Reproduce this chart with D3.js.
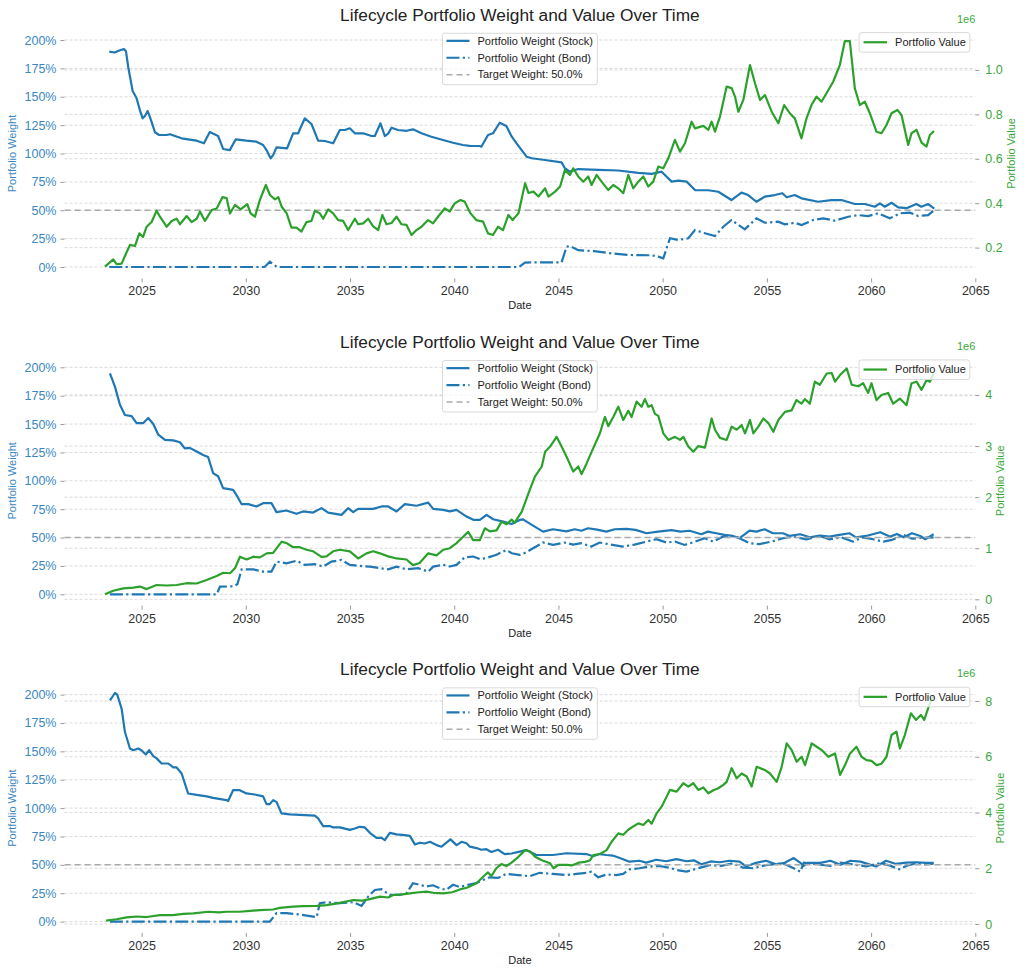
<!DOCTYPE html>
<html><head><meta charset="utf-8">
<script src="https://cdn.jsdelivr.net/npm/d3@7"></script>
<style>
body{margin:0;background:#fff;}
svg{display:block;font-family:"Liberation Sans",Arial,Helvetica,sans-serif;}
</style></head><body>
<svg id="chart" width="1024" height="975"></svg>
<script>
// ---------------- DATA ----------------
const TITLE = "Lifecycle Portfolio Weight and Value Over Time";
const xTickYears = [2025, 2030, 2035, 2040, 2045, 2050, 2055, 2060, 2065];
const weightTicks = [0, 25, 50, 75, 100, 125, 150, 175, 200];
const targetWeight = 50;
const weightLegendLabels = ["Portfolio Weight (Stock)", "Portfolio Weight (Bond)", "Target Weight: 50.0%"];
const valueLegendLabel = "Portfolio Value";
const xLabel = "Date", leftLabel = "Portfolio Weight", rightLabel = "Portfolio Value", offsetLabel = "1e6";

// Panel 1 : [year, weight %] and [year, value in 1e6]
const p1Stock = [[2023.45,189.7],[2023.7,189],[2023.96,191],[2024.15,192],[2024.25,190],[2024.36,176],[2024.47,165],[2024.57,155],[2024.76,148.6],[2024.92,138],[2025.05,131],[2025.16,133],[2025.29,137.4],[2025.4,132],[2025.53,125],[2025.64,118.7],[2025.84,116.3],[2026.2,116.3],[2026.36,117],[2026.6,115.4],[2026.92,113.4],[2027.23,112.5],[2027.64,111.3],[2027.99,109],[2028.27,118.9],[2028.67,115.4],[2028.91,104],[2029.23,103],[2029.52,112.5],[2030.03,111.3],[2030.51,110.4],[2030.83,107.5],[2030.99,103],[2031.19,95.8],[2031.31,98.6],[2031.47,105.4],[2031.98,104.6],[2032.27,117.8],[2032.51,117.8],[2032.83,131],[2033.15,126],[2033.47,111.3],[2033.79,111],[2034.19,109],[2034.51,120.7],[2034.75,120.7],[2034.99,122.2],[2035.23,117.8],[2035.63,117.8],[2036.03,115.4],[2036.19,115.4],[2036.46,126.6],[2036.67,115.4],[2036.83,117.5],[2036.99,122.7],[2037.3,120.7],[2037.71,120],[2038.02,121.3],[2038.43,117.8],[2038.9,114.8],[2039.46,111.9],[2039.94,109.5],[2040.42,107.5],[2040.74,106.7],[2041.22,106.6],[2041.3,106],[2041.62,116.3],[2041.86,117.8],[2042.18,127.1],[2042.5,124.2],[2042.76,114.8],[2042.99,109],[2043.47,97.2],[2043.72,95.8],[2044.35,94.3],[2045.15,92.2],[2045.31,87],[2045.54,84],[2045.95,86.3],[2046.91,85.5],[2047.87,85],[2048.83,83],[2049.47,82],[2049.95,84],[2050.43,75.2],[2050.75,76.1],[2051.15,75.2],[2051.55,67.8],[2052.19,67.6],[2052.67,66.3],[2053.3,59],[2053.78,65.5],[2054.1,63.4],[2054.5,57.5],[2054.9,62],[2055.38,63.4],[2055.74,65],[2055.95,61.5],[2056.34,63.4],[2056.66,60.5],[2057.46,57.5],[2058.1,59],[2058.58,59],[2059.22,55.5],[2059.7,55.5],[2060.18,53.1],[2060.42,56],[2060.66,53.1],[2060.98,56.6],[2061.3,52.6],[2061.7,51.8],[2062.17,55.5],[2062.41,53.1],[2062.74,55.5],[2063.03,51.4]];
const p1Bond = [[2023.45,0],[2030.9,0],[2031.15,4.7],[2031.5,0],[2043.1,0],[2043.4,3.8],[2043.72,4.1],[2045.15,4.1],[2045.39,17.9],[2045.55,18.4],[2045.95,14.8],[2046.71,14],[2047.55,12],[2048.35,10.6],[2049.47,10.3],[2049.79,9.1],[2050.03,7.6],[2050.35,25.3],[2050.75,23.8],[2051.23,25.3],[2051.55,32.6],[2052.03,29.7],[2052.51,27.3],[2052.91,35.5],[2053.3,41.4],[2053.94,33.2],[2054.5,42.9],[2054.9,39],[2055.54,39.9],[2055.86,37.6],[2056.34,39],[2056.66,37],[2057.22,41.4],[2057.7,42.9],[2058.26,40.8],[2058.9,44.3],[2059.38,45.7],[2059.86,44.9],[2060.34,47.3],[2060.9,42.9],[2061.38,47.3],[2061.86,47.9],[2062.26,44.9],[2062.74,45.7],[2063.03,50.2]];
const p1Value = [[2023.24,0.114],[2023.64,0.147],[2023.8,0.125],[2024.04,0.128],[2024.2,0.162],[2024.44,0.212],[2024.68,0.207],[2024.89,0.264],[2025.07,0.248],[2025.24,0.294],[2025.48,0.315],[2025.72,0.366],[2025.88,0.339],[2026.2,0.294],[2026.44,0.32],[2026.68,0.33],[2026.84,0.305],[2027.16,0.342],[2027.4,0.315],[2027.64,0.33],[2027.8,0.362],[2028.04,0.32],[2028.36,0.369],[2028.6,0.376],[2028.88,0.427],[2029.08,0.423],[2029.24,0.354],[2029.48,0.392],[2029.75,0.372],[2030.07,0.396],[2030.23,0.354],[2030.44,0.339],[2030.67,0.414],[2030.96,0.482],[2031.16,0.437],[2031.4,0.417],[2031.56,0.427],[2031.72,0.384],[2031.96,0.354],[2032.19,0.29],[2032.43,0.29],[2032.67,0.272],[2032.91,0.315],[2033.15,0.32],[2033.31,0.366],[2033.55,0.354],[2033.71,0.33],[2033.95,0.372],[2034.19,0.354],[2034.43,0.324],[2034.67,0.32],[2034.91,0.279],[2035.23,0.33],[2035.39,0.305],[2035.63,0.309],[2035.87,0.33],[2036.1,0.297],[2036.35,0.279],[2036.55,0.347],[2036.75,0.305],[2036.99,0.311],[2037.23,0.339],[2037.47,0.305],[2037.71,0.302],[2037.95,0.257],[2038.19,0.279],[2038.43,0.294],[2038.74,0.324],[2038.98,0.309],[2039.22,0.339],[2039.55,0.377],[2039.78,0.362],[2040.02,0.399],[2040.3,0.414],[2040.5,0.407],[2040.78,0.354],[2041.06,0.324],[2041.38,0.317],[2041.62,0.264],[2041.86,0.257],[2042.1,0.294],[2042.34,0.279],[2042.6,0.347],[2042.8,0.324],[2043.08,0.354],[2043.4,0.49],[2043.56,0.446],[2043.8,0.452],[2044.04,0.43],[2044.36,0.467],[2044.52,0.43],[2044.84,0.452],[2045.08,0.475],[2045.31,0.55],[2045.55,0.527],[2045.71,0.557],[2045.95,0.52],[2046.19,0.497],[2046.43,0.52],[2046.59,0.482],[2046.83,0.527],[2047.07,0.497],[2047.39,0.459],[2047.63,0.482],[2047.87,0.467],[2048.11,0.445],[2048.35,0.527],[2048.59,0.467],[2048.83,0.497],[2049.07,0.52],[2049.31,0.475],[2049.55,0.497],[2049.79,0.565],[2050.03,0.557],[2050.27,0.602],[2050.59,0.685],[2050.83,0.632],[2051.07,0.67],[2051.39,0.767],[2051.55,0.737],[2051.95,0.748],[2052.19,0.73],[2052.35,0.767],[2052.51,0.722],[2052.75,0.79],[2053.07,0.925],[2053.31,0.918],[2053.47,0.88],[2053.63,0.812],[2053.87,0.865],[2054.19,1.022],[2054.43,0.94],[2054.67,0.865],[2054.91,0.887],[2055.23,0.812],[2055.55,0.76],[2055.83,0.842],[2056.1,0.805],[2056.34,0.782],[2056.66,0.692],[2056.9,0.782],[2057.14,0.842],[2057.38,0.88],[2057.62,0.857],[2057.86,0.895],[2058.18,0.947],[2058.5,1.022],[2058.74,1.13],[2058.98,1.13],[2059.22,0.917],[2059.46,0.842],[2059.7,0.857],[2059.94,0.805],[2060.26,0.722],[2060.5,0.715],[2060.74,0.752],[2060.98,0.805],[2061.26,0.82],[2061.46,0.797],[2061.78,0.662],[2061.94,0.715],[2062.18,0.73],[2062.42,0.673],[2062.66,0.655],[2062.82,0.707],[2063.02,0.725]];
const p1ValueTicks = [0.2, 0.4, 0.6, 0.8, 1.0];

// Panel 2
const p2Stock = [[2023.48,194.7],[2023.72,183],[2023.96,167],[2024.2,158],[2024.52,157],[2024.76,150.9],[2025.08,150.9],[2025.32,155.3],[2025.56,150],[2025.8,140.6],[2026.12,136],[2026.52,135.6],[2026.84,134],[2027.07,128.6],[2027.31,129],[2027.64,125.8],[2027.95,122.8],[2028.19,121],[2028.43,106.8],[2028.67,104],[2028.91,93.5],[2029.39,92],[2029.6,86],[2029.8,79.4],[2030.12,79.4],[2030.51,77.4],[2030.83,80.3],[2031.23,80.3],[2031.47,72.4],[2031.95,73.8],[2032.43,70.9],[2032.75,73],[2033.23,72],[2033.63,75.9],[2033.95,72],[2034.59,70],[2034.91,75.9],[2035.15,72.4],[2035.39,75.3],[2036.11,75.3],[2036.51,77.4],[2036.83,77.4],[2037.23,73],[2037.63,79.4],[2038.19,78],[2038.75,80.8],[2038.99,75.3],[2039.47,74.4],[2039.79,73],[2040.11,74.4],[2040.59,68.5],[2040.91,65.6],[2041.23,65.6],[2041.55,70],[2041.87,66.1],[2042.35,64],[2042.75,61.9],[2043.14,65.5],[2043.3,66],[2043.72,61.2],[2044.26,55.2],[2044.74,57.3],[2045.38,55.5],[2045.78,57.3],[2046.1,56],[2046.42,58.2],[2046.85,57],[2047.3,55.2],[2047.7,57.3],[2048.25,57.6],[2048.7,56.8],[2049.22,53.8],[2049.78,55.2],[2050.42,56.5],[2050.85,55.2],[2051.3,56],[2051.85,52.9],[2052.17,55.2],[2052.57,53.8],[2052.97,52.3],[2053.37,51.4],[2053.69,49.4],[2054.17,56.1],[2054.5,55.2],[2054.89,57.3],[2055.29,53.8],[2055.77,53.8],[2056.09,51.4],[2056.6,52.9],[2057.06,50.2],[2057.54,51.8],[2058.0,50.8],[2058.48,52.3],[2058.96,53.8],[2059.28,50.2],[2059.76,51.4],[2060.44,54.7],[2060.92,50.8],[2061.24,53.2],[2061.56,50.2],[2061.96,53.8],[2062.36,51.4],[2062.6,48.5],[2063.0,52.9]];
const p2Bond = [[2023.48,0],[2028.6,0],[2028.76,6.7],[2029.4,7],[2029.6,9],[2029.8,22],[2030.35,22],[2030.83,20],[2031.23,20],[2031.47,28.8],[2031.95,27.3],[2032.43,29.6],[2032.83,25.9],[2033.31,26.5],[2033.71,24.4],[2034.11,28.8],[2034.59,30.3],[2034.99,25.9],[2035.47,25],[2035.95,24.4],[2036.43,23],[2036.83,22],[2037.23,24.4],[2037.71,22],[2038.27,23],[2038.75,20],[2038.99,24.4],[2039.47,25.9],[2039.79,24.5],[2040.11,25.9],[2040.5,32.6],[2040.91,33.3],[2041.23,31],[2041.55,32],[2042.03,34.9],[2042.5,39],[2042.76,36.2],[2043.14,34.7],[2043.46,37],[2043.78,40.6],[2044.26,45.6],[2044.74,43.5],[2045.3,45.6],[2045.7,43.8],[2046.1,45],[2046.58,42.1],[2046.98,45.6],[2047.5,43.8],[2048.09,42.1],[2048.65,43.8],[2049.22,46.4],[2049.7,48.5],[2050.18,45.6],[2050.6,46.4],[2051.05,43.5],[2051.5,46],[2052.01,49.4],[2052.41,46.4],[2052.89,50.8],[2053.45,51.4],[2054.17,45],[2054.65,44.2],[2055.21,46.4],[2055.77,49.4],[2056.25,50.8],[2056.89,48.5],[2057.53,51.4],[2058.01,48.5],[2058.57,50.2],[2059.12,46.4],[2059.6,50.2],[2060.1,48.5],[2060.6,46.4],[2061.0,47.9],[2061.56,52.3],[2061.96,49],[2062.4,49.8],[2063.0,50.2]];
const p2Value = [[2023.24,0.098],[2023.64,0.168],[2024.12,0.215],[2024.6,0.23],[2024.92,0.25],[2025.24,0.2],[2025.72,0.28],[2026.2,0.27],[2026.68,0.28],[2027.16,0.315],[2027.64,0.31],[2028.12,0.378],[2028.6,0.456],[2028.92,0.52],[2029.24,0.51],[2029.48,0.607],[2029.72,0.834],[2030.04,0.78],[2030.36,0.834],[2030.68,0.82],[2031.0,0.9],[2031.31,0.91],[2031.72,1.128],[2031.96,1.1],[2032.27,1.02],[2032.59,1.02],[2032.91,0.97],[2033.23,0.94],[2033.63,0.83],[2033.87,0.84],[2034.19,0.94],[2034.51,0.97],[2034.99,0.94],[2035.39,0.8],[2035.79,0.9],[2036.11,0.94],[2036.43,0.9],[2036.83,0.84],[2037.23,0.8],[2037.71,0.78],[2038.02,0.67],[2038.34,0.71],[2038.75,0.9],[2039.15,0.86],[2039.47,0.97],[2039.79,1.0],[2040.11,1.1],[2040.43,1.226],[2040.67,1.32],[2040.91,1.16],[2041.23,1.16],[2041.47,1.39],[2041.71,1.33],[2042.03,1.35],[2042.27,1.52],[2042.51,1.47],[2042.75,1.56],[2042.9,1.5],[2043.24,1.715],[2043.56,2.075],[2043.87,2.4],[2044.2,2.6],[2044.36,2.89],[2044.6,2.99],[2044.91,3.18],[2045.15,2.99],[2045.39,2.79],[2045.71,2.5],[2045.95,2.6],[2046.11,2.45],[2046.35,2.66],[2046.67,2.96],[2046.99,3.25],[2047.23,3.57],[2047.39,3.39],[2047.63,3.57],[2047.87,3.77],[2048.11,3.51],[2048.35,3.69],[2048.51,3.57],[2048.75,3.87],[2048.99,3.77],[2049.15,3.92],[2049.31,3.77],[2049.47,3.8],[2049.63,3.63],[2049.79,3.59],[2050.03,3.25],[2050.27,3.12],[2050.59,3.18],[2050.83,3.12],[2050.99,3.18],[2051.23,2.99],[2051.47,2.89],[2051.71,3.0],[2052.03,2.97],[2052.35,3.54],[2052.51,3.32],[2052.75,3.16],[2053.07,3.12],[2053.31,3.38],[2053.55,3.32],[2053.79,3.41],[2053.95,3.25],[2054.19,3.51],[2054.35,3.25],[2054.59,3.38],[2054.83,3.54],[2055.07,3.45],[2055.31,3.28],[2055.55,3.51],[2055.87,3.67],[2056.19,3.7],[2056.42,3.9],[2056.66,3.83],[2056.82,3.92],[2057.06,3.83],[2057.3,4.26],[2057.54,4.2],[2057.87,4.42],[2058.11,4.43],[2058.27,4.26],[2058.51,4.39],[2058.83,4.52],[2059.07,4.2],[2059.38,4.17],[2059.62,4.23],[2059.86,4.04],[2060.02,4.23],[2060.26,3.9],[2060.5,4.0],[2060.82,4.04],[2061.06,3.83],[2061.38,3.93],[2061.7,3.8],[2061.94,4.23],[2062.18,4.26],[2062.42,4.1],[2062.66,4.29],[2062.82,4.26],[2063.0,4.42]];
const p2ValueTicks = [0, 1, 2, 3, 4];

// Panel 3
const p3Stock = [[2023.48,195],[2023.56,197],[2023.72,201.4],[2023.83,200],[2024.04,187.7],[2024.2,167],[2024.44,152.5],[2024.6,151],[2024.84,152.5],[2024.99,151],[2025.2,147.2],[2025.36,151],[2025.56,145.8],[2025.72,143.8],[2025.96,139.3],[2026.28,139.3],[2026.52,135.8],[2026.68,135.8],[2026.92,130.5],[2027.23,112.9],[2027.64,111.6],[2028.12,110.3],[2028.43,109],[2029.07,107],[2029.15,106.2],[2029.39,115.8],[2029.71,115.8],[2030.03,112.9],[2030.43,112],[2030.83,110.3],[2030.99,103.5],[2031.15,103.5],[2031.31,107],[2031.47,105.5],[2031.71,95.3],[2032.11,94.5],[2032.59,94],[2033.31,93.4],[2033.47,91],[2033.71,84.2],[2034.03,84.2],[2034.19,83],[2034.51,83],[2034.99,80.8],[2035.23,82],[2035.47,83.5],[2035.71,83],[2035.95,78.2],[2036.27,73.8],[2036.51,73.8],[2036.67,71.8],[2036.91,78.2],[2037.23,76.8],[2037.63,76.2],[2037.87,75.5],[2038.11,68],[2038.35,69.5],[2038.59,68.8],[2038.83,70.3],[2039.15,67.4],[2039.39,66],[2039.55,68.5],[2039.82,72.4],[2040.11,67.4],[2040.35,70.3],[2040.59,69],[2040.75,66],[2041.07,64.8],[2041.3,63.3],[2041.54,63.8],[2041.78,61.3],[2042.1,63.3],[2042.42,59.5],[2042.75,60],[2043.14,61.6],[2043.46,63],[2043.94,58.7],[2044.74,58.7],[2045.38,60.2],[2046.34,59.5],[2046.66,57.6],[2046.98,59.5],[2047.3,58.7],[2047.6,58.2],[2047.94,56.1],[2048.41,52.8],[2048.89,53.6],[2049.21,52],[2049.69,54.5],[2050.17,53.2],[2050.66,55],[2051.14,53.2],[2051.5,54],[2051.85,50.5],[2052.3,53],[2052.73,52.3],[2053.21,53.6],[2053.69,52.8],[2054.0,48.6],[2054.48,51.8],[2054.96,53.6],[2055.44,50.5],[2055.85,51.8],[2056.29,56],[2056.61,51.8],[2056.77,49],[2056.95,51.8],[2057.57,51.8],[2058.05,53.6],[2058.53,50],[2059.01,53.6],[2059.49,52.8],[2060.24,48.6],[2060.72,53.6],[2061.2,50.8],[2061.68,52],[2062.16,52.3],[2062.64,51.8],[2063.0,51.8]];
const p3Bond = [[2023.48,0],[2031.15,0],[2031.47,7.4],[2031.95,7.4],[2032.43,6.6],[2033.23,4.4],[2033.4,4],[2033.55,16.2],[2033.87,17.1],[2034.51,16.2],[2035.15,17.1],[2035.55,13.8],[2035.87,22],[2036.19,27.9],[2036.51,28.5],[2036.91,23.5],[2037.39,23.5],[2037.71,25],[2038.02,33.8],[2038.34,32.4],[2038.66,31],[2038.98,32],[2039.3,29.4],[2039.62,27.9],[2039.94,32.4],[2040.26,30.5],[2040.66,32.4],[2041.06,34],[2041.38,36.7],[2041.7,39],[2042.1,38.5],[2042.5,42],[2043.06,41],[2043.62,40],[2044.1,43],[2044.74,42],[2045.38,41],[2045.86,42],[2046.34,43],[2046.58,44],[2046.9,39],[2047.3,41.5],[2047.78,41],[2048.1,42],[2048.41,46],[2048.89,47],[2049.37,48.6],[2049.85,49],[2050.33,47.5],[2050.66,45.5],[2051.14,44],[2051.7,47],[2052.25,49.8],[2052.8,49],[2053.37,51.4],[2053.85,47.5],[2054.33,47],[2054.96,49.8],[2055.76,51.4],[2056.29,47],[2056.61,44],[2056.77,52],[2057.4,50.5],[2058.05,49],[2058.53,52],[2059.1,50.5],[2059.76,48.6],[2060.4,51.4],[2060.88,49.5],[2061.36,46],[2061.68,49],[2062.16,51.4],[2062.6,50.5],[2063.0,51]];
const p3Value = [[2023.3,0.12],[2023.8,0.17],[2024.28,0.24],[2024.76,0.27],[2025.24,0.25],[2025.88,0.32],[2026.5,0.32],[2027.0,0.36],[2027.48,0.38],[2028.2,0.44],[2028.7,0.42],[2029.08,0.44],[2029.7,0.44],[2030.2,0.47],[2030.67,0.5],[2031.3,0.52],[2031.63,0.58],[2032.27,0.62],[2032.75,0.64],[2033.39,0.65],[2033.87,0.68],[2034.4,0.74],[2035.15,0.86],[2035.6,0.84],[2036.0,0.9],[2036.43,0.98],[2036.83,0.95],[2037.07,1.04],[2037.5,1.06],[2037.87,1.1],[2038.3,1.14],[2038.67,1.16],[2039.0,1.12],[2039.47,1.1],[2039.9,1.14],[2040.27,1.24],[2040.6,1.3],[2041.07,1.46],[2041.46,1.75],[2041.62,1.85],[2041.78,1.72],[2042.02,2.0],[2042.26,2.15],[2042.5,2.08],[2042.75,2.2],[2043.08,2.41],[2043.4,2.65],[2043.64,2.6],[2043.88,2.41],[2044.2,2.29],[2044.6,2.18],[2044.76,2.0],[2045.0,2.12],[2045.4,2.12],[2045.64,2.1],[2045.96,2.2],[2046.28,2.23],[2046.52,2.29],[2046.67,2.47],[2046.99,2.51],[2047.31,2.65],[2047.55,2.95],[2047.87,3.25],[2048.11,3.2],[2048.35,3.38],[2048.59,3.5],[2048.83,3.61],[2049.07,3.55],[2049.31,3.73],[2049.47,3.6],[2049.71,3.97],[2049.95,4.21],[2050.19,4.57],[2050.35,4.81],[2050.67,4.75],[2050.99,5.05],[2051.23,4.93],[2051.47,5.05],[2051.71,4.81],[2051.95,4.9],[2052.19,4.69],[2052.43,4.8],[2052.67,4.87],[2052.91,4.99],[2053.07,5.1],[2053.31,5.59],[2053.55,5.23],[2053.79,5.4],[2054.03,5.29],[2054.27,4.93],[2054.51,5.64],[2054.91,5.52],[2055.15,5.4],[2055.47,5.1],[2055.71,5.64],[2055.95,6.48],[2056.19,6.24],[2056.43,5.82],[2056.67,6.0],[2056.83,5.7],[2057.15,6.48],[2057.39,6.36],[2057.63,6.24],[2057.95,6.0],[2058.27,6.12],[2058.51,5.35],[2058.75,5.7],[2058.99,6.12],[2059.3,6.36],[2059.54,6.0],[2059.78,5.88],[2060.02,5.85],[2060.26,5.7],[2060.5,5.75],[2060.74,6.0],[2060.98,6.78],[2061.22,6.9],[2061.38,6.3],[2061.62,6.78],[2061.91,7.56],[2062.15,7.32],[2062.39,7.5],[2062.55,7.32],[2062.82,7.92],[2063.0,8.2]];
const p3ValueTicks = [0, 2, 4, 6, 8];

// ---------------- LAYOUT / STYLE ----------------
const BLUE = "#1f77b4", GREEN = "#2ca02c";
const BLUE_TXT = "#3a87c2", GREEN_TXT = "#3aa83a";
const X0 = 64.5, X1 = 975.3;
const PANEL_STEP = 327.3, AX_TOP = 28.65, AX_H = 249.7;
const xDomain = [2021.3, 2065.0];
const weightDomain = [-10, 210];

const panels = [
  {stock: p1Stock, bond: p1Bond, value: p1Value, vTicks: p1ValueTicks, vDomain: [0.0615, 1.186], vFmt: d3.format(".1f")},
  {stock: p2Stock, bond: p2Bond, value: p2Value, vTicks: p2ValueTicks, vDomain: [-0.124, 4.764], vFmt: d3.format("d")},
  {stock: p3Stock, bond: p3Bond, value: p3Value, vTicks: p3ValueTicks, vDomain: [-0.321, 8.637], vFmt: d3.format("d")}
];

const svg = d3.select("#chart");
svg.append("rect").attr("width", 1024).attr("height", 975).attr("fill", "#fff");

const x = d3.scaleLinear().domain(xDomain).range([X0, X1]);
const DASHDOT = "13,3.3,2.2,3.3";

panels.forEach((p, i) => {
  const top = AX_TOP + i * PANEL_STEP, bottom = top + AX_H;
  const yW = d3.scaleLinear().domain(weightDomain).range([bottom, top]);
  const yV = d3.scaleLinear().domain(p.vDomain).range([bottom, top]);
  const g = svg.append("g");

  const clipId = "clip" + i;
  svg.append("clipPath").attr("id", clipId).append("rect")
    .attr("x", X0).attr("y", top - 1).attr("width", X1 - X0).attr("height", AX_H + 2);

  // gridlines (left + right)
  g.append("g").selectAll("line").data(weightTicks).join("line")
    .attr("x1", X0).attr("x2", X1).attr("y1", d => yW(d)).attr("y2", d => yW(d))
    .attr("stroke", "#d6d6d6").attr("stroke-width", 0.9).attr("stroke-dasharray", "3,2");
  g.append("g").selectAll("line").data(p.vTicks).join("line")
    .attr("x1", X0).attr("x2", X1).attr("y1", d => yV(d)).attr("y2", d => yV(d))
    .attr("stroke", "#d6d6d6").attr("stroke-width", 0.9).attr("stroke-dasharray", "3,2");

  // axes
  const axL = d3.axisLeft(yW).tickValues(weightTicks).tickFormat(d => d + "%").tickSize(4).tickPadding(4);
  const gL = g.append("g").attr("transform", `translate(${X0},0)`).call(axL);
  const axR = d3.axisRight(yV).tickValues(p.vTicks).tickFormat(p.vFmt).tickSize(4).tickPadding(6);
  const gR = g.append("g").attr("transform", `translate(${X1},0)`).call(axR);
  const axB = d3.axisBottom(x).tickValues(xTickYears).tickFormat(d3.format("d")).tickSize(4).tickPadding(4);
  const gB = g.append("g").attr("transform", `translate(0,${bottom})`).call(axB);
  [gL, gR, gB].forEach(a => {
    a.select(".domain").remove();
    a.selectAll(".tick line").attr("stroke", "#9a9a9a");
    a.selectAll("text").attr("font-family", "Liberation Sans, Arial, sans-serif").attr("font-size", 12.5);
  });
  gL.selectAll("text").attr("fill", BLUE_TXT);
  gR.selectAll("text").attr("fill", GREEN_TXT);
  gB.selectAll("text").attr("fill", "#333");

  // weight lines
  const lineW = d3.line().x(d => x(d[0])).y(d => yW(d[1]));
  const lineV = d3.line().x(d => x(d[0])).y(d => yV(d[1]));
  const plot = g.append("g").attr("clip-path", `url(#${clipId})`);
  plot.append("path").datum(p.stock).attr("d", lineW)
    .attr("fill", "none").attr("stroke", BLUE).attr("stroke-width", 2.2).attr("stroke-linejoin", "round");
  plot.append("path").datum(p.bond).attr("d", lineW)
    .attr("fill", "none").attr("stroke", BLUE).attr("stroke-width", 2.2).attr("stroke-dasharray", DASHDOT);
  plot.append("line").attr("x1", X0).attr("x2", X1).attr("y1", yW(targetWeight)).attr("y2", yW(targetWeight))
    .attr("stroke", "#aaaaaa").attr("stroke-width", 1.5).attr("stroke-dasharray", "6,4");

  // legend (weights) upper center
  const lg = g.append("g");
  const lgBox = lg.append("rect").attr("rx", 2.5).attr("fill", "#fff").attr("fill-opacity", 0.8)
    .attr("stroke", "#d9d9d9").attr("stroke-width", 1);
  const styles = [
    {stroke: BLUE, w: 2.2, dash: null},
    {stroke: BLUE, w: 2.2, dash: DASHDOT},
    {stroke: "#aaaaaa", w: 1.5, dash: "6,4"}
  ];
  const rowH = 16.9;
  const items = lg.selectAll("g.item").data(weightLegendLabels).join("g").attr("class", "item");
  items.append("line").attr("x1", 0).attr("x2", 23).attr("y1", (d, k) => k * rowH).attr("y2", (d, k) => k * rowH)
    .attr("stroke", (d, k) => styles[k].stroke).attr("stroke-width", (d, k) => styles[k].w)
    .attr("stroke-dasharray", (d, k) => styles[k].dash);
  items.append("text").attr("x", 31).attr("y", (d, k) => k * rowH).attr("dy", "0.35em")
    .attr("font-size", 11).attr("fill", "#222").text(d => d);
  let maxW = 0;
  items.selectAll("text").each(function () { maxW = Math.max(maxW, this.getComputedTextLength()); });
  const boxW = 4 + 31 + maxW + 4.5, boxH = 51.5;
  const boxX = (X0 + X1) / 2 - boxW / 2, boxY = top + 4.6;
  lgBox.attr("x", 0).attr("y", 0).attr("width", boxW).attr("height", boxH);
  lg.attr("transform", `translate(${boxX},${boxY})`);
  items.attr("transform", "translate(4,7.6)");

  // value line (twin axis drawn on top)
  plot.append("path").datum(p.value).attr("d", lineV)
    .attr("fill", "none").attr("stroke", GREEN).attr("stroke-width", 2.2).attr("stroke-linejoin", "round");

  // legend (value) upper right
  const lg2 = g.append("g");
  const box2 = lg2.append("rect").attr("rx", 2.5).attr("fill", "#fff").attr("fill-opacity", 0.8)
    .attr("stroke", "#d9d9d9").attr("stroke-width", 1);
  lg2.append("line").attr("x1", 4.5).attr("x2", 28).attr("y1", 9.6).attr("y2", 9.6)
    .attr("stroke", GREEN).attr("stroke-width", 2.2);
  const t2 = lg2.append("text").attr("x", 36).attr("y", 9.6).attr("dy", "0.35em")
    .attr("font-size", 11).attr("fill", "#222").text(valueLegendLabel);
  const w2 = 36 + t2.node().getComputedTextLength() + 4;
  box2.attr("width", w2).attr("height", 19.5);
  lg2.attr("transform", `translate(${X1 - 5.5 - w2},${top + 4})`);

  // titles and labels
  g.append("text").attr("x", (X0 + X1) / 2).attr("y", top - 7.8).attr("text-anchor", "middle")
    .attr("font-size", 17.3).attr("fill", "#222").text(TITLE);
  g.append("text").attr("x", X1).attr("y", top - 6).attr("text-anchor", "end")
    .attr("font-size", 11).attr("fill", GREEN_TXT).text(offsetLabel);
  g.append("text").attr("x", (X0 + X1) / 2).attr("y", bottom + 31).attr("text-anchor", "middle")
    .attr("font-size", 11).attr("fill", "#222").text(xLabel);
  const midY = (top + bottom) / 2;
  g.append("text").attr("transform", `translate(12,${midY}) rotate(-90)`).attr("text-anchor", "middle")
    .attr("dy", "0.35em").attr("font-size", 11).attr("fill", BLUE_TXT).text(leftLabel);
  let rMax = 0;
  gR.selectAll("text").each(function () { const b = this.getBBox(); rMax = Math.max(rMax, X1 + b.x + b.width); });
  g.append("text").attr("transform", `translate(${rMax + 8},${midY}) rotate(-90)`).attr("text-anchor", "middle")
    .attr("dy", "0.35em").attr("font-size", 11).attr("fill", GREEN_TXT).text(rightLabel);
});
</script>
</body></html>
